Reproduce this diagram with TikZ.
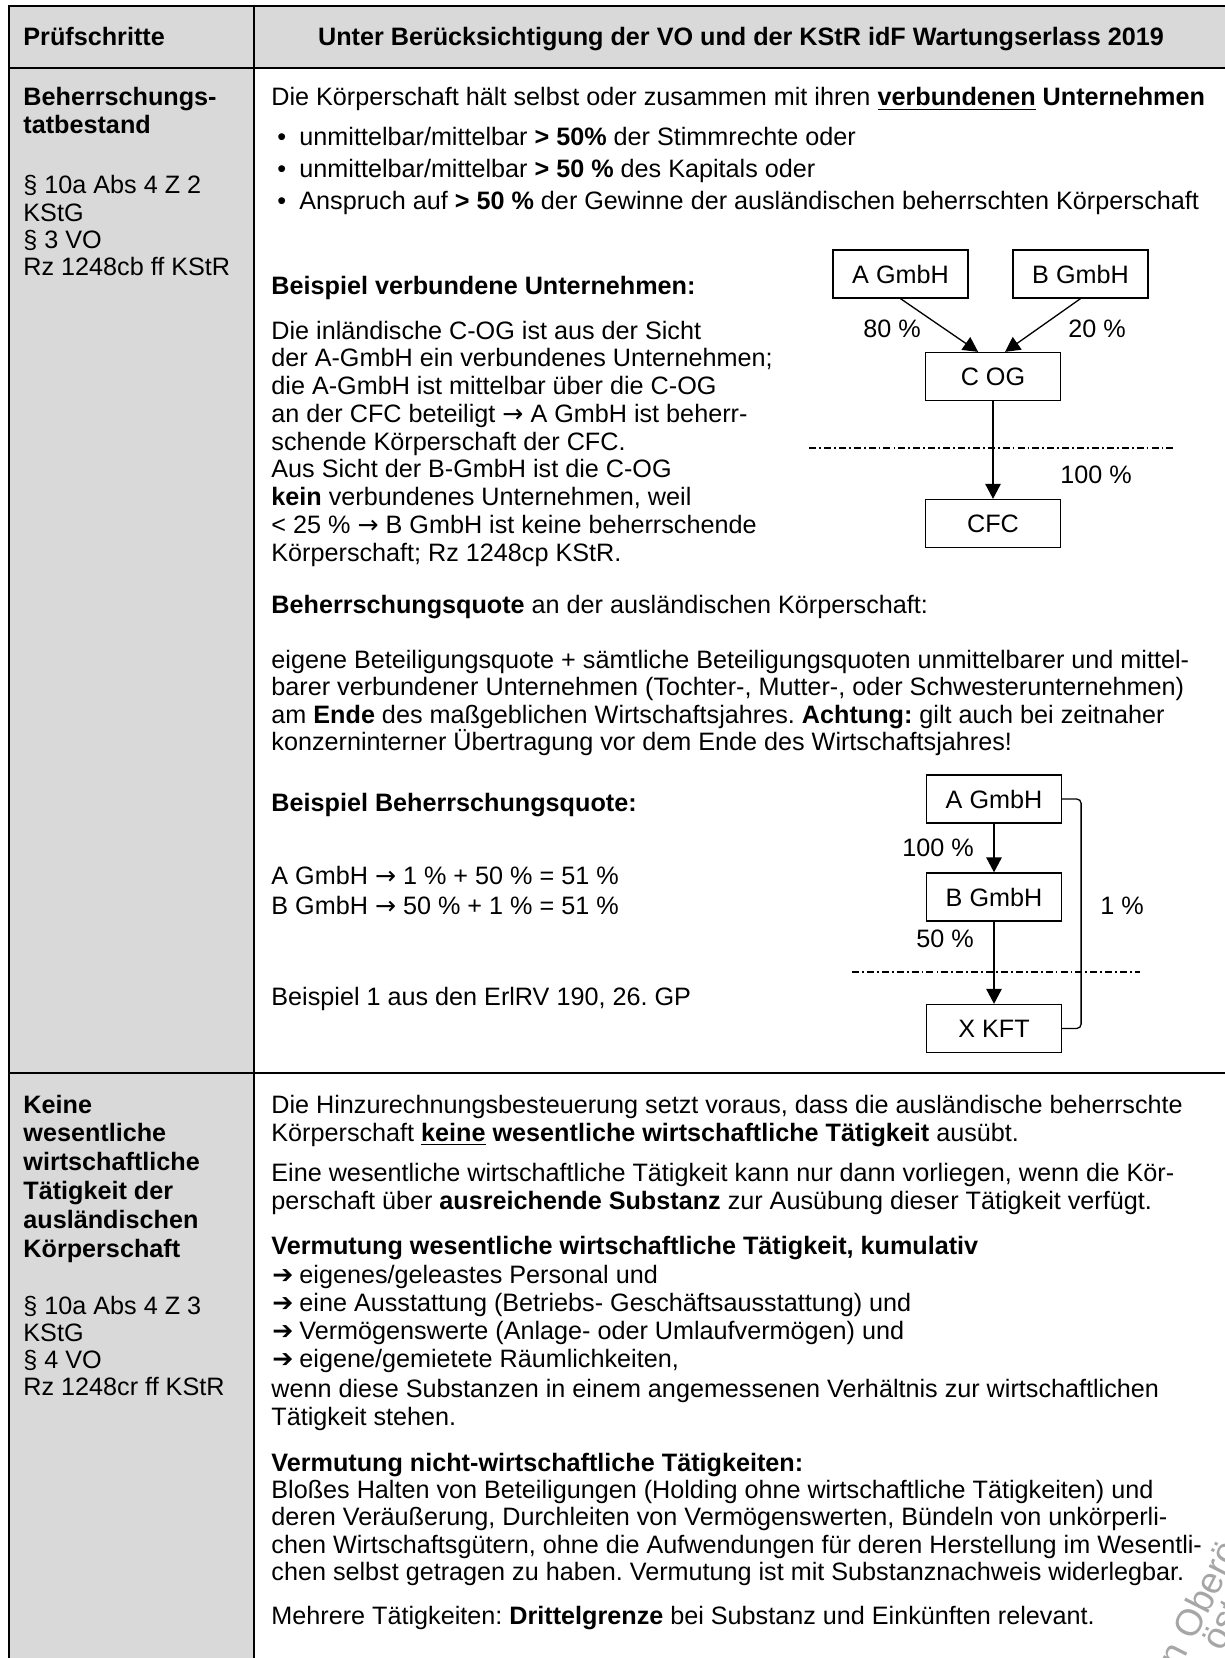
\documentclass[tikz,border=0pt]{standalone}
\usepackage{fontspec}
\setmainfont{Liberation Sans}
\newfontfamily\arrowfont{DejaVu Sans}
\usetikzlibrary{arrows.meta,positioning}
\frenchspacing

\colorlet{cellgray}{black!15}
\newcommand{\ra}{{\arrowfont →}}
\tikzset{
  txt/.style={anchor=base west, inner sep=0pt, font=\fontsize{11.5}{13}\selectfont},
  hdr/.style={txt, font=\fontsize{11.5}{13}\selectfont\bfseries},
  firm/.style={draw, line width=0.6pt, minimum width=61.6pt, minimum height=21.9pt,
    inner sep=0pt, font=\fontsize{11.5}{13}\selectfont},
  share/.style={-{Triangle[length=6.8pt,width=7pt]}, line width=0.6pt},
  pct/.style={inner sep=0pt, font=\fontsize{11.5}{13}\selectfont},
  cut/.style={line width=0.7pt, dash pattern=on 3.2pt off 1.4pt on 0.8pt off 1.4pt},
  border/.style={line width=0.9pt},
  watermark/.style={text=black!35, font=\fontsize{17}{20}\selectfont,
    anchor=base west, inner sep=0pt, rotate=63}
}

\begin{document}
\begin{tikzpicture}[x=0.4566pt, y=-0.4566pt]
    \useasboundingbox (0,0) rectangle (1224,1658);

    % Table background
    \fill[cellgray] (9,6) rectangle (1228,68);
    \fill[cellgray] (9,68) rectangle (254,1670);

    % Table grid
    \draw[border] (9,1670) -- (9,6) -- (1228,6) -- (1228,1670);
    \draw[border] (9,68) -- (1228,68);
    \draw[border] (9,1073) -- (1228,1073);
    \draw[border] (254,6) -- (254,1670);

    % Header row
    \node[hdr] (colstep) at (23,46) {Prüfschritte};
    \node[hdr, anchor=base] (colrule) at (741,46) {Unter Berücksichtigung der VO und der KStR idF Wartungserlass 2019};

    % Row 1, left column
    \foreach \t [count=\i from 0] in {Beherrschungs-, tatbestand}
        \node[hdr] (steponeh\i) at (23,106+28*\i) {\t};
    \foreach \t [count=\i from 0] in {§ 10a Abs 4 Z 2, KStG, § 3 VO, Rz 1248cb ff KStR}
        \node[txt] (stepone\i) at (23,194+27*\i) {\t};

    % Row 1, right column
    \node[txt] (ctrl) at (271,106) {Die Körperschaft hält selbst oder zusammen mit ihren \textbf{\underline{verbundenen} Unternehmen}};
    \foreach \t [count=\i from 0] in {
        {unmittelbar/mittelbar \textbf{> 50\%} der Stimmrechte oder},
        {unmittelbar/mittelbar \textbf{> 50 \%} des Kapitals oder},
        {Anspruch auf \textbf{> 50 \%} der Gewinne der ausländischen beherrschten Körperschaft}}
    {
        \node[txt] (bul\i) at (277,146+31.5*\i) {•};
        \node[txt] (bultxt\i) at (299,146+31.5*\i) {\t};
    }

    \node[hdr] (exonehead) at (271,294) {Beispiel verbundene Unternehmen:};
    \foreach \t [count=\i from 0] in {
        {Die inländische C-OG ist aus der Sicht},
        {der A-GmbH ein verbundenes Unternehmen;},
        {die A-GmbH ist mittelbar über die C-OG},
        {an der CFC beteiligt \ra{} A GmbH ist beherr-},
        {schende Körperschaft der CFC.},
        {Aus Sicht der B-GmbH ist die C-OG},
        {\textbf{kein} verbundenes Unternehmen, weil},
        {< 25 \% \ra{} B GmbH ist keine beherrschende},
        {Körperschaft; Rz 1248cp KStR.}}
        \node[txt] (exone\i) at (271,339+27.75*\i) {\t};

    \node[txt] (quotehead) at (271,613) {\textbf{Beherrschungsquote} an der ausländischen Körperschaft:};
    \foreach \t [count=\i from 0] in {
        {eigene Beteiligungsquote + sämtliche Beteiligungsquoten unmittelbarer und mittel-},
        {barer verbundener Unternehmen (Tochter-, Mutter-, oder Schwesterunternehmen)},
        {am \textbf{Ende} des maßgeblichen Wirtschaftsjahres. \textbf{Achtung:} gilt auch bei zeitnaher},
        {konzerninterner Übertragung vor dem Ende des Wirtschaftsjahres!}}
        \node[txt] (quote\i) at (271,668+27.5*\i) {\t};

    \node[hdr] (extwohead) at (271,811) {Beispiel Beherrschungsquote:};
    \node[txt] (calca) at (271,884) {A GmbH \ra{} 1 \% + 50 \% = 51 \%};
    \node[txt] (calcb) at (271,914) {B GmbH \ra{} 50 \% + 1 \% = 51 \%};
    \node[txt] (source) at (271,1005) {Beispiel 1 aus den ErlRV 190, 26. GP};

    % Diagram: verbundene Unternehmen
    \node[firm] (aone) at (900.5,274) {A GmbH};
    \node[firm] (bone) at (1080.5,274) {B GmbH};
    \node[firm] (cog) at (993,376.5) {C OG};
    \node[firm] (cfc) at (993,523.5) {CFC};
    \draw[share] (aone.south) -- ([xshift=-6.8pt]cog.north);
    \draw[share] (bone.south) -- ([xshift=5.5pt]cog.north);
    \draw[share] (cog) -- (cfc);
    \coordinate (cutonew) at (809,448);
    \coordinate (cutonee) at (1173,448);
    \draw[cut] (cutonew) -- (cutonee);
    \node[pct] (pctac) at (892,329) {80 \%};
    \node[pct] (pctbc) at (1097,329) {20 \%};
    \node[pct] (pctcc) at (1096,475) {100 \%};

    % Diagram: Beherrschungsquote
    \node[firm] (atwo) at (994,799) {A GmbH};
    \node[firm] (btwo) at (994,897) {B GmbH};
    \node[firm] (xkft) at (994,1028.5) {X KFT};
    \draw[share] (atwo) -- (btwo);
    \draw[share] (btwo) -- (xkft);
    \draw[line width=0.6pt, rounded corners=2pt] (atwo.east) -- ++(19,0) |- (xkft.east);
    \coordinate (cuttwow) at (852,972);
    \coordinate (cuttwoe) at (1140,972);
    \draw[cut] (cuttwow) -- (cuttwoe);
    \node[pct] (pctab) at (938,848) {100 \%};
    \node[pct] (pctbx) at (945,939) {50 \%};
    \node[pct] (pctax) at (1122,906) {1 \%};

    % Row 2, left column
    \foreach \t [count=\i from 0] in {Keine, wesentliche, wirtschaftliche, Tätigkeit der, ausländischen, Körperschaft}
        \node[hdr] (steptwoh\i) at (23,1113+28.8*\i) {\t};
    \foreach \t [count=\i from 0] in {§ 10a Abs 4 Z 3, KStG, § 4 VO, Rz 1248cr ff KStR}
        \node[txt] (steptwo\i) at (23,1314+27.3*\i) {\t};

    % Row 2, right column
    \node[txt] (cond0) at (271,1113) {Die Hinzurechnungsbesteuerung setzt voraus, dass die ausländische beherrschte};
    \node[txt] (cond1) at (271,1141) {Körperschaft \textbf{\underline{keine} wesentliche wirtschaftliche Tätigkeit} ausübt.};
    \node[txt] (subst0) at (271,1181) {Eine wesentliche wirtschaftliche Tätigkeit kann nur dann vorliegen, wenn die Kör-};
    \node[txt] (subst1) at (271,1209) {perschaft über \textbf{ausreichende Substanz} zur Ausübung dieser Tätigkeit verfügt.};
    \node[hdr] (presumhead) at (271,1254) {Vermutung wesentliche wirtschaftliche Tätigkeit, kumulativ};
    \foreach \t [count=\i from 0] in {
        {eigenes/geleastes Personal und},
        {eine Ausstattung (Betriebs- Geschäftsausstattung) und},
        {Vermögenswerte (Anlage- oder Umlaufvermögen) und},
        {eigene/gemietete Räumlichkeiten,}}
    {
        \node[txt] (arr\i) at (272,1283+28*\i) {\arrowfont\bfseries ➔};
        \node[txt] (arrtxt\i) at (299,1283+28*\i) {\t};
    }
    \node[txt] (ratio0) at (271,1397) {wenn diese Substanzen in einem angemessenen Verhältnis zur wirtschaftlichen};
    \node[txt] (ratio1) at (271,1425) {Tätigkeit stehen.};
    \node[hdr] (nonhead) at (271,1471) {Vermutung nicht-wirtschaftliche Tätigkeiten:};
    \foreach \t [count=\i from 0] in {
        {Bloßes Halten von Beteiligungen (Holding ohne wirtschaftliche Tätigkeiten) und},
        {deren Veräußerung, Durchleiten von Vermögenswerten, Bündeln von unkörperli-},
        {chen Wirtschaftsgütern, ohne die Aufwendungen für deren Herstellung im Wesentli-},
        {chen selbst getragen zu haben. Vermutung ist mit Substanznachweis widerlegbar.}}
        \node[txt] (non\i) at (271,1498+27.6*\i) {\t};
    \node[txt] (third) at (271,1624) {Mehrere Tätigkeiten: \textbf{Drittelgrenze} bei Substanz und Einkünften relevant.};

    % Watermark
    \node[watermark] (wmone) at (1176,1677) {in Oberösterreich};
    \node[watermark] (wmtwo) at (1222,1653) {österreich};
\end{tikzpicture}
\end{document}
